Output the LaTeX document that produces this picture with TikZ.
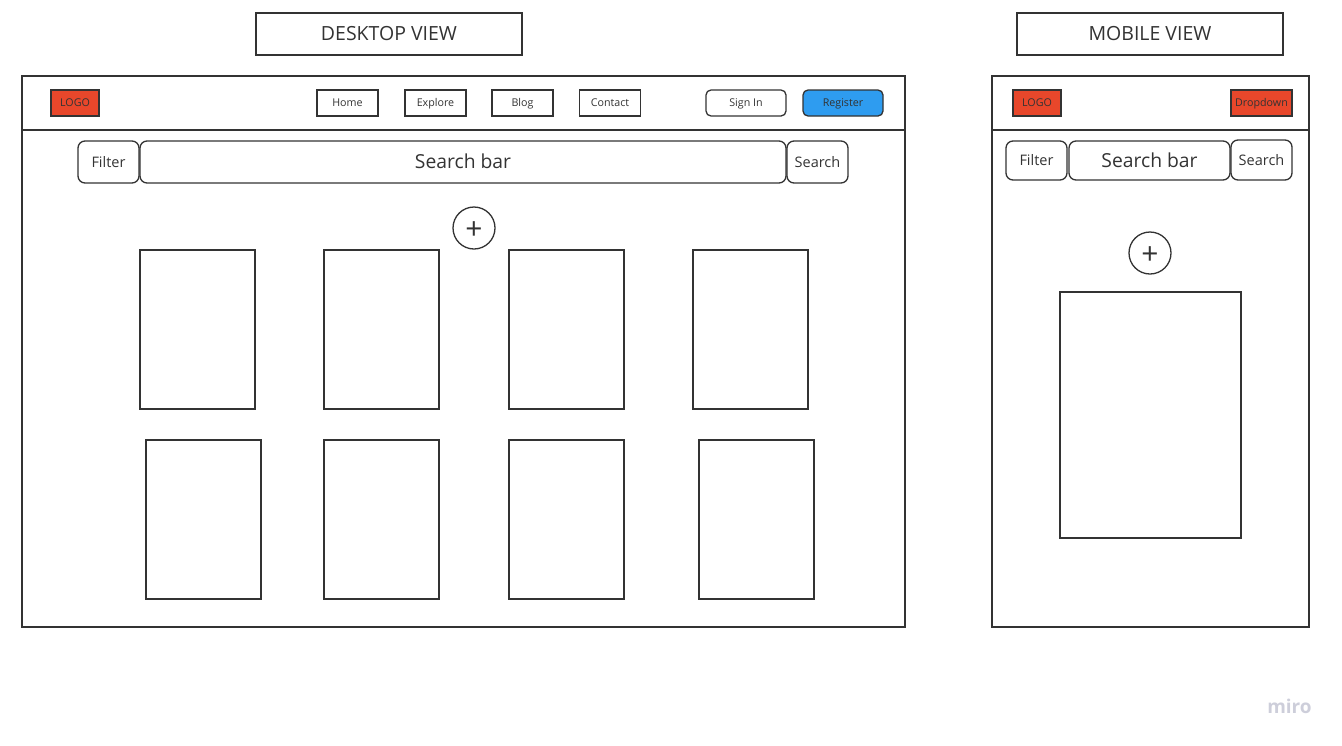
\documentclass[tikz,border=0pt]{standalone}
\usepackage{fontspec}
\setmainfont{Open Sans}
\definecolor{ink}{HTML}{333333}
\definecolor{logored}{HTML}{E8472B}
\definecolor{regblue}{HTML}{2E9CF0}
\definecolor{mirogray}{HTML}{CDCEDA}

\tikzset{
    caps/.style={text height=#1, text depth=0pt},
    frame/.style={draw=ink, line width=1.6pt, inner sep=0pt},
    title/.style={draw=ink, line width=1.4pt, inner sep=0pt, minimum width=266, minimum height=42, caps=13.9pt, font=\fontsize{19.5}{21}\selectfont, text=ink},
    navbtn/.style={draw=ink, line width=1.3pt, inner sep=0pt, minimum width=61, minimum height=26, caps=7.6pt, font=\fontsize{10.7}{12}\selectfont, text=ink},
    pill/.style={navbtn, rounded corners=5pt, minimum width=80},
    redtag/.style={navbtn, fill=logored, text=black!80},
    bar/.style={draw=ink, line width=1.3pt, inner sep=0pt, rounded corners=7pt, minimum height=42, text=ink},
    bigbar/.style={bar, caps=13.7pt, font=\fontsize{19.3}{21}\selectfont},
    smallbar/.style={bar, caps=10.3pt, minimum width=61, font=\fontsize{14.5}{16}\selectfont},
    card/.style={draw=ink, line width=1.3pt, inner sep=0pt, minimum width=115, minimum height=159},
    addbtn/.style={draw=ink, line width=1.3pt, circle, inner sep=0pt, minimum size=42, caps=23pt, font=\fontsize{30}{30}\selectfont, text=ink}
}

\begin{document}
\begin{tikzpicture}[x=1pt, y=-1pt]
    \useasboundingbox (0,0) rectangle (1342,745);

    % Titles
    \node[title] (desktitle) at (389,34) {DESKTOP VIEW};
    \node[title] (mobtitle) at (1150,34) {MOBILE VIEW};

    % Desktop frame
    \node[frame, minimum width=883, minimum height=551] (desk) at (463.5,351.5) {};
    \draw[frame] (desk.west |- 0,130) -- (desk.east |- 0,130);

    % Desktop header
    \node[redtag, minimum width=48] (desklogo) at (75,103) {LOGO};
    \node[navbtn] (home) at (347.5,103) {Home};
    \node[navbtn] (explore) at (435.5,103) {Explore};
    \node[navbtn] (blog) at (522.5,103) {Blog};
    \node[navbtn] (contact) at (610,103) {Contact};
    \node[pill] (signin) at (746,103) {Sign In};
    \node[pill, fill=regblue, text=black!80] (register) at (843,103) {Register};

    % Desktop search row
    \node[smallbar] (deskfilter) at (108.5,162) {Filter};
    \node[bigbar, minimum width=646] (desksearchbar) at (463,162) {Search bar};
    \node[smallbar] (desksearch) at (817.5,162) {Search};

    % Desktop add button and cards
    \node[addbtn] (deskadd) at (474,228) {+};
    \foreach \cx/\cy [count=\i] in {197.5/329.5, 381.5/329.5, 566.5/329.5, 750.5/329.5,
                                    203.5/519.5, 381.5/519.5, 566.5/519.5, 756.5/519.5}
        \node[card] (card\i) at (\cx,\cy) {};

    % Mobile frame
    \node[frame, minimum width=317, minimum height=551] (mob) at (1150.5,351.5) {};
    \draw[frame] (mob.west |- 0,130) -- (mob.east |- 0,130);

    % Mobile header
    \node[redtag, minimum width=48] (moblogo) at (1037,103) {LOGO};
    \node[redtag, minimum width=61] (dropdown) at (1261.5,103) {Dropdown};

    % Mobile search row
    \node[smallbar, minimum height=39] (mobfilter) at (1036.5,160.5) {Filter};
    \node[bigbar, minimum width=161, minimum height=39] (mobsearchbar) at (1149.5,160.5) {Search bar};
    \node[smallbar, minimum height=40] (mobsearch) at (1261.5,160) {Search};

    % Mobile add button and card
    \node[addbtn] (mobadd) at (1150,253) {+};
    \node[card, minimum width=181, minimum height=246] (mobcard) at (1150.5,415) {};

    % Watermark
    \node[text=mirogray, font=\fontsize{19}{20}\selectfont\bfseries] (miro) at (1289.5,706) {miro};
\end{tikzpicture}
\end{document}
